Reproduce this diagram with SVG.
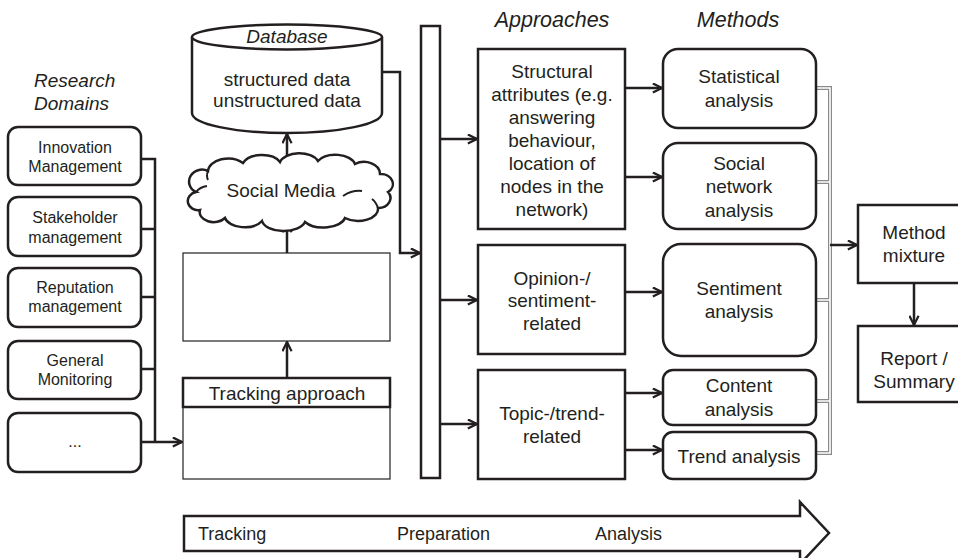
<svg xmlns="http://www.w3.org/2000/svg" width="958" height="558" viewBox="0 0 958 558">
<defs>
<style>
text{font-family:"Liberation Sans",Arial,sans-serif;fill:#231f20;text-anchor:middle}
.t16{font-size:16px}
.t19{font-size:19px}
.t18{font-size:18px}
.hd{font-size:21.5px;font-style:italic}
.it{font-style:italic}
.box{fill:#fff;stroke:#231f20;stroke-width:2.5}
.thin{fill:#fff;stroke:#231f20;stroke-width:1.2}
.ln{fill:none;stroke:#231f20;stroke-width:2.5}
.arr{fill:none;stroke:#231f20;stroke-width:2.5;marker-end:url(#ah)}
.g1{fill:none;stroke:#8a8a8a;stroke-width:4}
.g2{fill:none;stroke:#fff;stroke-width:1.6}
</style>
<marker id="ah" viewBox="0 0 12 12" refX="11" refY="6" markerWidth="11" markerHeight="11" markerUnits="userSpaceOnUse" orient="auto">
<path d="M1,1 L11,6 L1,11" fill="none" stroke="#231f20" stroke-width="2.4"/>
</marker>
</defs>

<!-- headers -->
<text class="t19 it" x="34" y="87" style="text-anchor:start">Research</text>
<text class="t19 it" x="34" y="110" style="text-anchor:start">Domains</text>
<text class="hd" x="552" y="27">Approaches</text>
<text class="hd" x="738" y="27">Methods</text>

<!-- connectors -->
<g id="connectors">
<path class="ln" d="M141,159 H155 V442 M141,229 H155 M141,297 H155 M141,369 H155"/>
<path class="arr" d="M141,442 H182"/>
<path class="arr" d="M287,378 V342"/>
<path class="arr" d="M287,253 V223"/>
<path class="arr" d="M287,163 V134"/>
<path class="arr" d="M382,72 H400 V253 H420"/>
<path class="arr" d="M440,139 H477"/>
<path class="arr" d="M440,300 H477"/>
<path class="arr" d="M440,424 H477"/>
<path class="arr" d="M625,88 H662"/>
<path class="arr" d="M625,177 H662"/>
<path class="arr" d="M625,292 H662"/>
<path class="arr" d="M625,393 H662"/>
<path class="arr" d="M625,450 H662"/>
<path class="g1" d="M816,88 H830 V453 H816 M816,182 H830 M816,300 H830 M816,401 H830"/>
<path class="g2" d="M816,88 H830 V453 H816 M816,182 H830 M816,300 H830 M816,401 H830"/>
<path class="arr" d="M830,245 H857"/>
<path class="arr" d="M914,283 V325"/>
</g>

<!-- research domains -->
<g id="rd1"><rect class="box" x="8" y="127" width="133" height="58" rx="10"/>
<text class="t16" x="75" y="153">Innovation</text><text class="t16" x="75" y="172">Management</text></g>
<g id="rd2"><rect class="box" x="8" y="197" width="133" height="59" rx="10"/>
<text class="t16" x="75" y="223">Stakeholder</text><text class="t16" x="75" y="243">management</text></g>
<g id="rd3"><rect class="box" x="8" y="268" width="133" height="59" rx="10"/>
<text class="t16" x="75" y="293">Reputation</text><text class="t16" x="75" y="312">management</text></g>
<g id="rd4"><rect class="box" x="8" y="341" width="133" height="58" rx="10"/>
<text class="t16" x="75" y="366">General</text><text class="t16" x="75" y="385">Monitoring</text></g>
<g id="rd5"><rect class="box" x="8" y="413" width="133" height="59" rx="10"/>
<text class="t16" x="75" y="447">...</text></g>

<!-- database -->
<g id="database">
<path class="box" d="M192,37 V113 A95,20 0 0 0 382,113 V37"/>
<ellipse class="box" cx="287" cy="37" rx="95" ry="12.5"/>
<text class="t19 it" x="287" y="43">Database</text>
<text class="t19" x="287" y="86">structured data</text>
<text class="t19" x="287" y="107">unstructured data</text>
</g>

<!-- social media cloud -->
<g id="social-media">
<path class="box" d="M196,192 A12,11 0 0 1 208,171 A20,13 0 0 1 243,163 A20,12 0 0 1 280,162 A20,12 0 0 1 318,161 A20,12 0 0 1 355,164 A16,12 0 0 1 380,174 A12,10 0 0 1 388,192 A12,10 0 0 1 378,208 A20,12 0 0 1 345,218 A22,12 0 0 1 305,222 A22,12 0 0 1 262,221 A20,12 0 0 1 225,218 A14,10 0 0 1 200,210 A10,9 0 0 1 196,192 Z"/>
<path fill="none" stroke="#231f20" stroke-width="2" d="M196,192 Q200,187 207,186 M343,196 Q352,190 362,191 M208,171 Q206,176 208,180 M378,208 Q376,202 372,199"/>
<text class="t19" x="281" y="197">Social Media</text>
</g>

<!-- empty box -->
<g id="empty-box"><rect class="thin" x="183" y="253" width="207" height="88"/></g>

<!-- tracking approach -->
<g id="tracking-approach">
<rect class="thin" x="183" y="407" width="207" height="72"/>
<rect class="box" x="183" y="378" width="207" height="29"/>
<text class="t19" x="287" y="400">Tracking approach</text>
</g>

<!-- bar -->
<g id="bar"><rect class="box" x="421" y="26" width="19" height="452"/></g>

<!-- approaches -->
<g id="ap1"><rect class="box" x="478" y="49" width="147" height="180"/>
<text class="t19" x="552" y="78">Structural</text>
<text class="t19" x="552" y="101">attributes (e.g.</text>
<text class="t19" x="552" y="124">answering</text>
<text class="t19" x="552" y="147">behaviour,</text>
<text class="t19" x="552" y="170">location of</text>
<text class="t19" x="552" y="193">nodes in the</text>
<text class="t19" x="552" y="216">network)</text></g>
<g id="ap2"><rect class="box" x="478" y="245" width="147" height="109"/>
<text class="t19" x="552" y="285">Opinion-/</text>
<text class="t19" x="552" y="307">sentiment-</text>
<text class="t19" x="552" y="330">related</text></g>
<g id="ap3"><rect class="box" x="478" y="370" width="147" height="109"/>
<text class="t19" x="552" y="420">Topic-/trend-</text>
<text class="t19" x="552" y="443">related</text></g>

<!-- methods -->
<g id="m1"><rect class="box" x="663" y="49" width="153" height="79" rx="15"/>
<text class="t19" x="739" y="83">Statistical</text><text class="t19" x="739" y="107">analysis</text></g>
<g id="m2"><rect class="box" x="663" y="143" width="153" height="86" rx="15"/>
<text class="t19" x="739" y="170">Social</text><text class="t19" x="739" y="193">network</text><text class="t19" x="739" y="217">analysis</text></g>
<g id="m3"><rect class="box" x="663" y="244" width="153" height="112" rx="18"/>
<text class="t19" x="739" y="295">Sentiment</text><text class="t19" x="739" y="318">analysis</text></g>
<g id="m4"><rect class="box" x="663" y="370" width="153" height="55" rx="10"/>
<text class="t19" x="739" y="392">Content</text><text class="t19" x="739" y="416">analysis</text></g>
<g id="m5"><rect class="box" x="663" y="432" width="153" height="47" rx="10"/>
<text class="t19" x="739" y="463">Trend analysis</text></g>

<!-- method mixture / report -->
<g id="method-mixture"><rect class="box" x="858" y="205" width="114" height="78"/>
<text class="t19" x="914" y="239">Method</text><text class="t19" x="914" y="262">mixture</text></g>
<g id="report"><rect class="box" x="858" y="326" width="114" height="76"/>
<text class="t19" x="914" y="365">Report /</text><text class="t19" x="914" y="388">Summary</text></g>

<!-- process arrow -->
<g id="process-arrow">
<path class="box" d="M184,516 H800 V502 L829,533 L800,564 V551 H184 Z"/>
<text class="t18" x="198" y="540" style="text-anchor:start">Tracking</text>
<text class="t18" x="397" y="540" style="text-anchor:start">Preparation</text>
<text class="t18" x="595" y="540" style="text-anchor:start">Analysis</text>
</g>
</svg>
